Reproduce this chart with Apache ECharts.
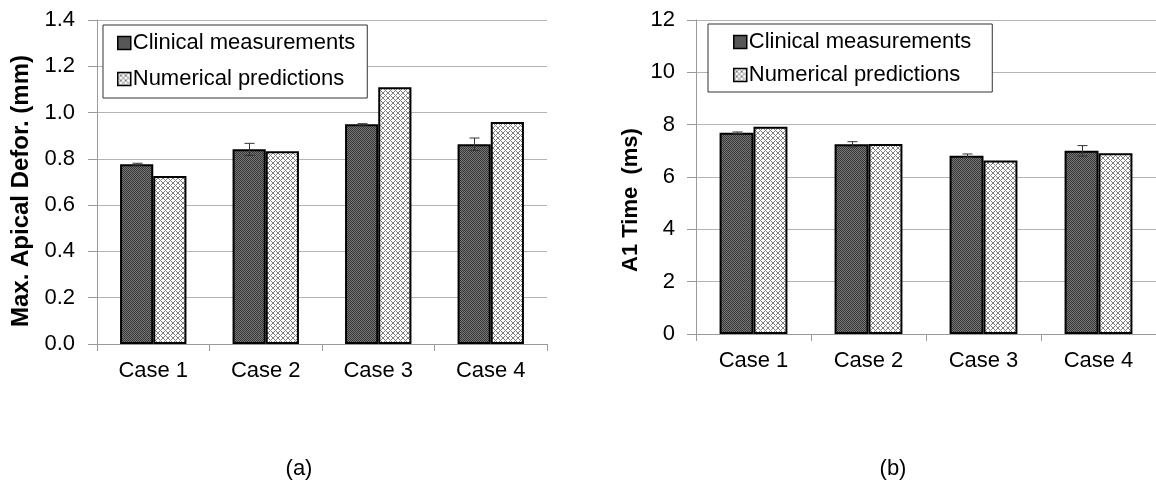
<!DOCTYPE html>
<html>
<head>
<meta charset="utf-8">
<script src="https://cdn.jsdelivr.net/npm/echarts@6/dist/echarts.min.js"></script>
<style>
  html, body { margin: 0; padding: 0; background: #fff; }
  #chart { width: 1156px; height: 483px; }
</style>
</head>
<body>
<div id="chart"></div>
<script>
// Categories and measured / predicted values
const cases = ['Case 1', 'Case 2', 'Case 3', 'Case 4'];

// (a) maximum apical deformation, mm
const apicalClinical = [0.777, 0.841, 0.949, 0.863];
const apicalClinicalErr = [0.004, 0.026, 0.003, 0.027];
const apicalNumerical = [0.726, 0.833, 1.109, 0.959];
const apicalTicks = [0, 0.2, 0.4, 0.6, 0.8, 1.0, 1.2, 1.4];

// (b) A1 time, ms
const timeClinical = [7.69, 7.25, 6.81, 7.00];
const timeClinicalErr = [0.03, 0.10, 0.07, 0.20];
const timeNumerical = [7.92, 7.26, 6.63, 6.91];
const timeTicks = [0, 2, 4, 6, 8, 10, 12];

const seriesNames = ['Clinical measurements', 'Numerical predictions'];
const axisTitles = ['Max. Apical Defor. (mm)', 'A1 Time  (ms)'];
const panelLabels = ['(a)', '(b)'];

const FONT = '"Liberation Sans", Arial, sans-serif';
const CAT_GAP = 0.41;

// Fill patterns for the two bar kinds
function tile(size, painter) {
  const c = document.createElement('canvas');
  c.width = size; c.height = size;
  const ctx = c.getContext('2d');
  const img = ctx.createImageData(size, size);
  for (let y = 0; y < size; y++) {
    for (let x = 0; x < size; x++) {
      const g = painter(x, y);
      const i = (y * size + x) * 4;
      img.data[i] = g; img.data[i + 1] = g; img.data[i + 2] = g; img.data[i + 3] = 255;
    }
  }
  ctx.putImageData(img, 0, 0);
  return c;
}
const darkTile = tile(2, (x, y) => ((x + y) % 2 === 0 ? 0x36 : 0x78));
const hatchTile = tile(5, (x, y) => ((x + y) % 5 === 0 || (x - y + 5) % 5 === 0 ? 0x80 : 0xff));
const darkFill = { image: darkTile, repeat: 'repeat' };
const hatchFill = { image: hatchTile, repeat: 'repeat' };

function errorBarRenderer(params, api) {
  const idx = api.value(0);
  const v = api.value(1);
  const e = api.value(2);
  const band = api.size([1, 0])[0];
  const off = -band * (1 - CAT_GAP) / 4;
  const top = api.coord([idx, v + e]);
  const bot = api.coord([idx, v - e]);
  const cx = Math.round(top[0] + off) + 0.5;
  const hw = 5;
  const style = { stroke: '#333', lineWidth: 1 };
  return {
    type: 'group',
    children: [
      { type: 'line', shape: { x1: cx, y1: top[1], x2: cx, y2: bot[1] }, style },
      { type: 'line', shape: { x1: cx - hw, y1: top[1], x2: cx + hw, y2: top[1] }, style },
      { type: 'line', shape: { x1: cx - hw, y1: bot[1], x2: cx + hw, y2: bot[1] }, style }
    ]
  };
}

function xAxisFor(gridIndex) {
  return {
    type: 'category', gridIndex, data: cases,
    axisLine: { lineStyle: { color: '#9a9a9a', width: 1 } },
    axisTick: { show: true, length: 7, lineStyle: { color: '#9a9a9a' } },
    axisLabel: { color: '#000', fontFamily: FONT, fontSize: 22, margin: 16 },
    splitLine: { show: false }
  };
}

function yAxisFor(gridIndex, ticks, fmt, margin) {
  return {
    type: 'value', gridIndex,
    min: ticks[0], max: ticks[ticks.length - 1], interval: ticks[1] - ticks[0],
    axisLine: { show: true, lineStyle: { color: '#9a9a9a', width: 1 } },
    axisTick: { show: true, length: 9, lineStyle: { color: '#9a9a9a' } },
    axisLabel: { color: '#000', fontFamily: FONT, fontSize: 22, margin, formatter: fmt },
    splitLine: { show: true, lineStyle: { color: '#b4b4b4', width: 1 } }
  };
}

function barSeries(name, axisIndex, data, fill) {
  return {
    type: 'bar', name, xAxisIndex: axisIndex, yAxisIndex: axisIndex, data,
    barGap: '0%', barCategoryGap: (CAT_GAP * 100) + '%',
    itemStyle: { color: fill, borderColor: '#000', borderWidth: 2 },
    emphasis: { disabled: true }
  };
}

function errSeries(axisIndex, values, errs) {
  return {
    type: 'custom', xAxisIndex: axisIndex, yAxisIndex: axisIndex, z: 5,
    renderItem: errorBarRenderer,
    encode: { x: 0, y: 1 },
    data: values.map((v, i) => [i, v, errs[i]])
  };
}

function legendAt(left, top, padding, itemGap) {
  return {
    orient: 'vertical', left, top,
    data: seriesNames, icon: 'rect',
    itemWidth: 13, itemHeight: 13, itemGap,
    padding, borderColor: '#333', borderWidth: 1,
    backgroundColor: '#fff',
    selectedMode: false,
    itemStyle: { borderColor: '#000', borderWidth: 1.5 },
    textStyle: { color: '#000', fontFamily: FONT, fontSize: 22, padding: [0, 0, 0, -3] }
  };
}

// Rotated y-axis titles
function axisTitle(text, x, y, size) {
  return {
    type: 'text', x, y, rotation: Math.PI / 2,
    style: {
      text, fill: '#000', font: 'bold ' + size + 'px ' + FONT,
      textAlign: 'center', textVerticalAlign: 'middle'
    }
  };
}

const chart = echarts.init(document.getElementById('chart'), null, { renderer: 'canvas' });
chart.setOption({
  animation: false,
  backgroundColor: '#fff',
  title: [
    { text: panelLabels[0], left: 294, top: 453, textAlign: 'center',
      textStyle: { color: '#000', fontFamily: FONT, fontSize: 22, fontWeight: 'normal' } },
    { text: panelLabels[1], left: 888, top: 453, textAlign: 'center',
      textStyle: { color: '#000', fontFamily: FONT, fontSize: 22, fontWeight: 'normal' } }
  ],
  graphic: [
    axisTitle(axisTitles[0], 21, 191, 24),
    axisTitle(axisTitles[1], 631, 200, 22)
  ],
  grid: [
    { left: 97, top: 20, width: 450, height: 324 },
    { left: 696, top: 20, width: 464, height: 314 }
  ],
  legend: [
    legendAt(103, 25, [7, 12, 8, 14], 14),
    legendAt(708, 24, [7, 21, 6, 25], 11)
  ],
  xAxis: [xAxisFor(0), xAxisFor(1)],
  yAxis: [
    yAxisFor(0, apicalTicks, v => v.toFixed(1), 22),
    yAxisFor(1, timeTicks, v => String(v), 21)
  ],
  series: [
    barSeries(seriesNames[0], 0, apicalClinical, darkFill),
    barSeries(seriesNames[1], 0, apicalNumerical, hatchFill),
    errSeries(0, apicalClinical, apicalClinicalErr),
    barSeries(seriesNames[0], 1, timeClinical, darkFill),
    barSeries(seriesNames[1], 1, timeNumerical, hatchFill),
    errSeries(1, timeClinical, timeClinicalErr)
  ]
});
</script>
</body>
</html>
